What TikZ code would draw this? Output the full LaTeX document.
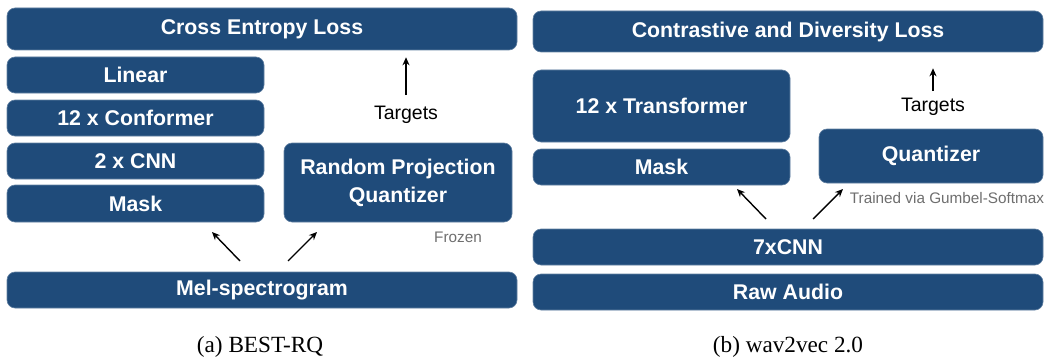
\documentclass[tikz,border=0pt]{standalone}
\usepackage{fontspec}
\setmainfont{Liberation Serif}
\setsansfont{Liberation Sans}
\usetikzlibrary{arrows.meta}
\definecolor{boxblue}{RGB}{31,75,122}
\definecolor{notegray}{RGB}{110,110,110}
\tikzset{
  blk/.style={fill=boxblue, draw=boxblue!70!white, line width=0.6pt, rounded corners=8pt, text=white,
    font=\sffamily\bfseries\fontsize{21.3}{24}\selectfont, inner sep=0pt, align=center},
  lbl/.style={font=\sffamily\fontsize{19.5}{22}\selectfont, text=black, inner sep=1pt},
  note/.style={font=\sffamily\fontsize{15.3}{18}\selectfont, text=notegray, inner sep=1pt},
  captxt/.style={font=\rmfamily\fontsize{23.2}{27}\selectfont, inner sep=0pt},
  arr/.style={line width=1.4pt, -{Stealth[length=8pt,width=7pt]}}
}
\begin{document}
\begin{tikzpicture}[x=1pt,y=-1pt]
\useasboundingbox (0,0) rectangle (1060,361);
% ---------- (a) BEST-RQ ----------
\node[blk, minimum width=510pt, minimum height=42pt] (cel) at (262,29) {Cross Entropy Loss};
\node[blk, minimum width=257pt, minimum height=36pt] (lin) at (135.5,75) {Linear};
\node[blk, minimum width=257pt, minimum height=36pt] (conf) at (135.5,118) {12 x Conformer};
\node[blk, minimum width=257pt, minimum height=36pt] (cnn) at (135.5,161) {2 x CNN};
\node[blk, minimum width=257pt, minimum height=37pt] (maska) at (135.5,203.5) {Mask};
\node[blk, minimum width=228pt, minimum height=79pt, font=\sffamily\bfseries\fontsize{21.3}{28}\selectfont] (rpq) at (398,182.5) {Random Projection\\Quantizer};
\node[note] (frozen) at (458,237) {Frozen};
\node[lbl] (tga) at (406,115) {Targets};
\node[blk, minimum width=510pt, minimum height=36pt] (mel) at (262,290) {Mel-spectrogram};
\node[captxt] (capa) at (260,347) {(a) BEST-RQ};
\draw[arr, shorten <=10pt, shorten >=7pt] (tga.north) -- (tga.north |- cel.south);
\coordinate (ma0) at (240,261);
\coordinate (ma1) at (212,232);
\coordinate (ra0) at (288,261);
\coordinate (ra1) at (317,232);
\draw[arr] (ma0) -- (ma1);
\draw[arr] (ra0) -- (ra1);
% ---------- (b) wav2vec 2.0 ----------
\node[blk, minimum width=510pt, minimum height=41pt] (cdl) at (788,31.5) {Contrastive and Diversity Loss};
\node[blk, minimum width=257pt, minimum height=72pt] (trf) at (661.5,106) {12 x Transformer};
\node[blk, minimum width=257pt, minimum height=36pt] (maskb) at (661.5,167) {Mask};
\node[blk, minimum width=224pt, minimum height=54pt] (quant) at (931,156) {Quantizer};
\node[lbl] (tgb) at (933,107) {Targets};
\node[note] (gum) at (947,198) {Trained via Gumbel-Softmax};
\node[blk, minimum width=510pt, minimum height=36pt] (cnn7) at (788,247) {7xCNN};
\node[blk, minimum width=510pt, minimum height=36pt] (raw) at (788,292) {Raw Audio};
\node[captxt] (capb) at (788,347) {(b) wav2vec 2.0};
\draw[arr, shorten <=6pt, shorten >=16pt] (tgb.north) -- (tgb.north |- cdl.south);
\coordinate (mb0) at (766,219);
\coordinate (mb1) at (737,189);
\coordinate (rb0) at (813,219);
\coordinate (rb1) at (843,189);
\draw[arr] (mb0) -- (mb1);
\draw[arr] (rb0) -- (rb1);
\end{tikzpicture}
\end{document}
